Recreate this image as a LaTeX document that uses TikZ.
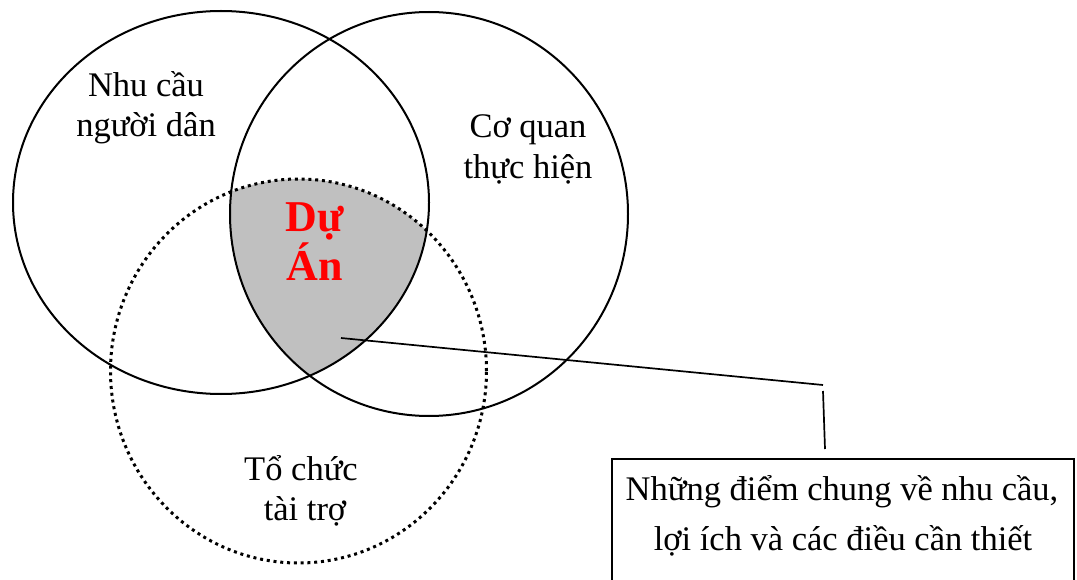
\documentclass[tikz,border=0pt]{standalone}
\usepackage{fontspec}
\setmainfont{Liberation Serif}
\begin{document}
\begin{tikzpicture}[x=1pt,y=-1pt,
  ring/.style={line width=2pt},
  dotring/.style={line width=3pt, dash pattern=on 3pt off 3.8pt},
  lbl/.style={inner sep=0pt, anchor=base, font=\fontsize{34.5}{40}\selectfont},
  big/.style={inner sep=0pt, anchor=base, text=red, font=\fontsize{44}{48}\selectfont\bfseries},
  callout/.style={line width=1.7pt}]
\clip (0,0) rectangle (1077,580);
\useasboundingbox (0,0) rectangle (1077,580);
% shaded common region
\begin{scope}
  \clip (221,202.5) ellipse [x radius=208pt, y radius=191.5pt];
  \clip (429,214) ellipse [x radius=199pt, y radius=202pt];
  \fill[fill={rgb,255:red,192;green,192;blue,192}] (298.5,371) ellipse [x radius=188pt, y radius=192pt];
\end{scope}
\draw[ring] (221,202.5) ellipse [x radius=208pt, y radius=191.5pt];
\draw[ring] (429,214) ellipse [x radius=199pt, y radius=202pt];
\draw[dotring] (298.5,371) ellipse [x radius=188pt, y radius=192pt];
% labels
\node[lbl] (a1) at (146,97) {Nhu cầu};
\node[lbl] (a2) at (146,137) {người dân};
\node[lbl] (b1) at (528,138) {Cơ quan};
\node[lbl] (b2) at (528,179) {thực hiện};
\node[lbl] (c1) at (301,480) {Tổ chức};
\node[lbl] (c2) at (305,520) {tài trợ};
\node[big] (d1) at (315,232) {Dự};
\node[big] (d2) at (315,280) {Án};
% callout box
\node[draw, line width=1.7pt, anchor=north west, minimum width=462pt, minimum height=160pt, inner sep=0pt] (box) at (611,458) {};
\node[lbl] (e1) at (842,500) {Những điểm chung về nhu cầu,};
\node[lbl] (e2) at (843,550) {lợi ích và các điều cần thiết};
\coordinate (p) at (341,338);
\coordinate (q) at (823,385);
\coordinate (r) at (823,391);
\coordinate (s) at (825,449);
\draw[callout] (p) -- (q);
\draw[callout] (r) -- (s);
\end{tikzpicture}
\end{document}
